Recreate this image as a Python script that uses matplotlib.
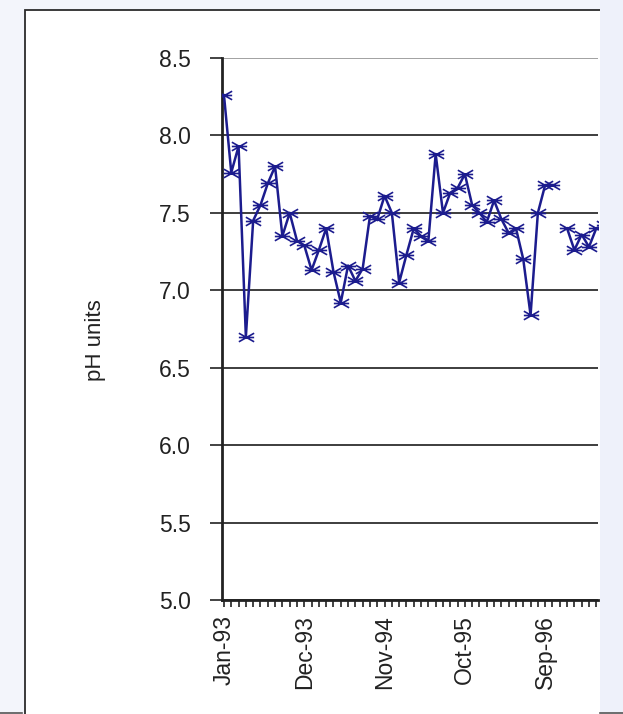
import numpy as np
import matplotlib
matplotlib.use("Agg")
import matplotlib.pyplot as plt
from matplotlib.path import Path
from matplotlib.patches import Rectangle
from matplotlib.lines import Line2D

# Monthly pH readings starting Jan-1993 (NaN = no sample that month)
ph_values = [
    8.26, 7.76, 7.93, 6.70, 7.45, 7.55, 7.69, 7.80, 7.35, 7.50, 7.32, 7.29,   # 1993
    7.13, 7.26, 7.40, 7.12, 6.92, 7.16, 7.06, 7.14, 7.48, 7.46, 7.61, 7.50,   # 1994
    7.05, 7.23, 7.40, 7.35, 7.32, 7.88, 7.50, 7.63, 7.66, 7.75, 7.55, 7.50,   # 1995
    7.44, 7.58, 7.46, 7.37, 7.40, 7.20, 6.84, 7.50, 7.68, 7.68, np.nan, 7.40,  # 1996
    7.26, 7.36, 7.28, 7.40, 7.42,                                              # 1997
]
month_index = np.arange(len(ph_values))

tick_months = [0, 11, 22, 33, 44]
tick_labels = ["Jan-93", "Dec-93", "Nov-94", "Oct-95", "Sep-96"]
y_ticks = [5.0, 5.5, 6.0, 6.5, 7.0, 7.5, 8.0, 8.5]

W, H = 623, 714
plt.rcParams["font.family"] = ["Liberation Sans", "DejaVu Sans"]

fig = plt.figure(figsize=(W / 100, H / 100), dpi=100, facecolor="#f3f5fb")

# white chart frame with dark border (left and top edges visible)
frame = Rectangle((25 / W, -0.05), 1.2, 1 - 10 / H + 0.05,
                  transform=fig.transFigure, facecolor="white",
                  edgecolor="#2b2b2b", linewidth=1.3, zorder=-3)
fig.add_artist(frame)
strip = Rectangle((600 / W, 0), 1, 1, transform=fig.transFigure,
                  facecolor="#eef1fa", edgecolor="none", zorder=-2)
fig.add_artist(strip)
for x0, x1 in [(0, 22), (600, 623)]:
    fig.add_artist(Line2D([x0 / W, x1 / W], [1.5 / H, 1.5 / H],
                          transform=fig.transFigure, color="#555555",
                          linewidth=1.2, zorder=-1))

ax = fig.add_axes([222 / W, 114 / H, 376 / W, 542 / H])
ax.set_facecolor("none")

# star-like marker: a wide cross with a horizontal bar
star = Path([(-1.6, -0.9), (1.6, 0.9), (-1.6, 0.9), (1.6, -0.9), (-1.6, 0), (1.6, 0)],
            [Path.MOVETO, Path.LINETO, Path.MOVETO, Path.LINETO, Path.MOVETO, Path.LINETO])

navy = "#1c1c8e"
ax.plot(month_index, ph_values, color=navy, linewidth=1.8,
        marker=star, markersize=11, markeredgewidth=1.2,
        markeredgecolor=navy, markerfacecolor="none", zorder=3)

ax.set_ylim(5.0, 8.5)
ax.set_xlim(-0.27, -0.27 + 376 / 7.3)

ax.set_yticks(y_ticks)
ax.set_yticklabels([f"{v:.1f}" for v in y_ticks])
ax.set_xticks(tick_months)
ax.set_xticklabels(tick_labels, rotation=90)
ax.set_xticks(np.arange(0, 52), minor=True)

ax.yaxis.grid(True, color="#2e2e2e", linewidth=1.3)
ax.set_axisbelow(True)
ax.get_ygridlines()[-1].set_color("#9a9a9a")

for side in ("top", "right"):
    ax.spines[side].set_visible(False)
for side in ("left", "bottom"):
    ax.spines[side].set_color("#222222")
    ax.spines[side].set_linewidth(2.0)

ax.tick_params(axis="y", direction="out", length=8.6, width=1.2,
               color="#222222", pad=14, labelsize=16.5, labelcolor="#222222")
ax.tick_params(axis="x", which="both", direction="out", length=5, width=1.2,
               color="#222222", pad=6, labelsize=16.5, labelcolor="#222222")

fig.text(95 / W, 1 - 340 / H, "pH units", rotation=90, ha="center", va="center",
         fontsize=16, color="#222222")

fig.savefig("out.png", dpi=100, facecolor=fig.get_facecolor())
